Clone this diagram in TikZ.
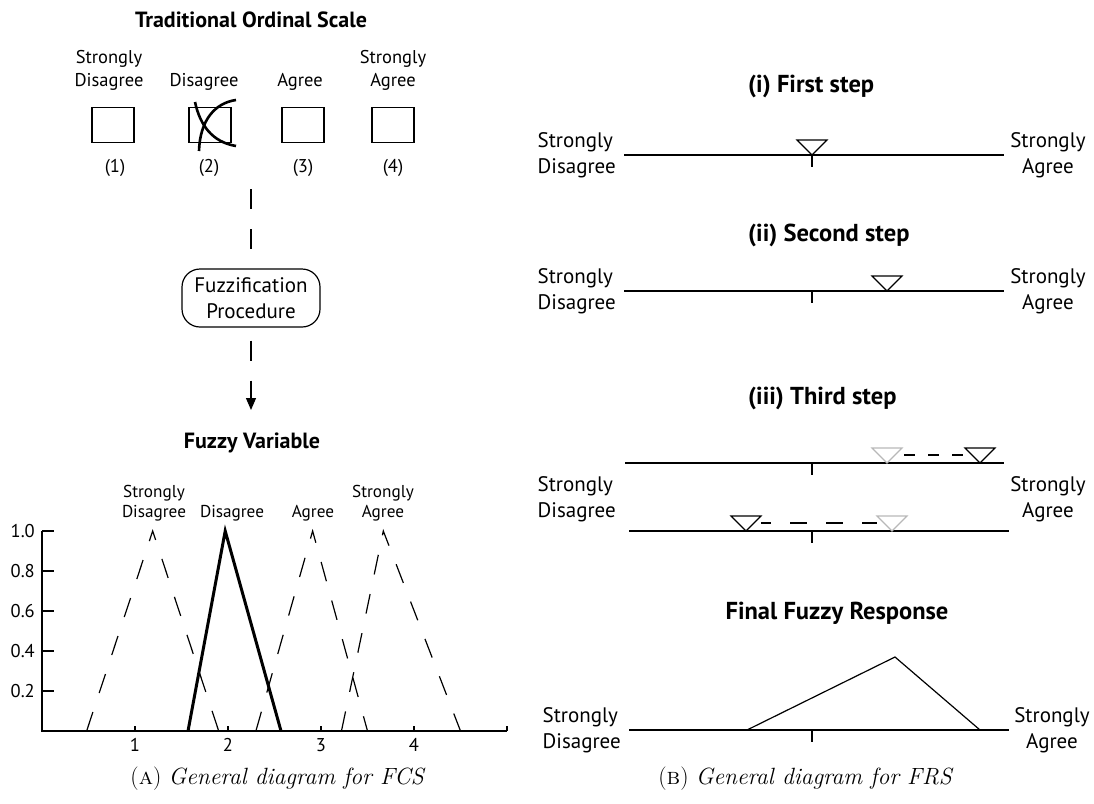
\documentclass[tikz,border=0pt]{standalone}
\usepackage{fontspec}
\newfontfamily\sansf{PT Sans}
\usetikzlibrary{arrows.meta,positioning}

\begin{document}
\begin{tikzpicture}[x=1pt,y=-1pt,
    lbl/.style={font=\sansf\fontsize{18.5}{23}\selectfont, align=center, inner sep=0pt},
    lblsm/.style={font=\sansf\fontsize{17.2}{20}\selectfont, align=center, inner sep=0pt},
    lblbig/.style={font=\sansf\fontsize{21}{26}\selectfont, align=center, inner sep=0pt},
    ttl/.style={font=\sansf\bfseries\fontsize{22}{26}\selectfont, inner sep=0pt},
    ttlbig/.style={font=\sansf\bfseries\fontsize{24.5}{29}\selectfont, inner sep=0pt},
    captxt/.style={font=\fontsize{23.5}{28}\selectfont, inner sep=0pt},
    box/.style={draw, line width=1.2pt, minimum width=42pt, minimum height=35pt, inner sep=0pt},
    flow/.style={line width=1.2pt, dash pattern=on 20pt off 20pt},
    fuzzy/.style={line width=1.2pt, dash pattern=on 20pt off 20pt},
    scaleline/.style={line width=1.3pt},
    tri/.style={line width=1.2pt},
    ghost/.style={line width=1.2pt, draw=black!28},
    trail/.style={line width=1.2pt}]
    \useasboundingbox (0,0) rectangle (1094,803);

    % (A) traditional ordinal scale
    \node[ttl] (ordtitle) at (251,20) {Traditional Ordinal Scale};
    \node[box] (b1) at (113,125) {};
    \node[box] (b2) at (210,125) {};
    \node[box] (b3) at (303,125) {};
    \node[box] (b4) at (393,125) {};
    \node[lbl] (l1) at (109,70) {Strongly\\Disagree};
    \node[lbl] (l2) at (204,82) {Disagree};
    \node[lbl] (l3) at (300,82) {Agree};
    \node[lbl] (l4) at (393,70) {Strongly\\Agree};
    \node[lbl] (n1) at (115,168) {(1)};
    \node[lbl] (n2) at (209,168) {(2)};
    \node[lbl] (n3) at (303,168) {(3)};
    \node[lbl] (n4) at (393,168) {(4)};
    % the tick on box 2
    \draw[line width=2.6pt] (236,100) .. controls (215,103) and (200,120) .. (199,151);
    \draw[line width=2.6pt] (195,102) .. controls (200,125) and (212,142) .. (236,146);

    % fuzzification
    \coordinate (flowtop) at (251,189);
    \node[lblbig, draw, line width=1.2pt, rounded corners=18pt, minimum width=138pt, minimum height=58pt] (fuzz) at (251,298) {Fuzzification\\Procedure};
    \coordinate (flowend) at (251,410);
    \draw[flow] (flowtop) -- (fuzz.north);
    \draw[flow, dash phase=27pt, -{Triangle[length=12pt,width=10pt]}] (fuzz.south) -- (flowend);

    % fuzzy variable
    \node[ttl] (fvtitle) at (252,443) {Fuzzy Variable};
    \node[lblsm] (t1) at (154,503) {Strongly\\Disagree};
    \node[lblsm] (t2) at (232,513) {Disagree};
    \node[lblsm] (t3) at (313,513) {Agree};
    \node[lblsm] (t4) at (383,503) {Strongly\\Agree};
    \begin{scope}[shift={(42,731)}, x=93pt, y=200pt]
        \draw[scaleline] (0,1) -- (0,0) -- (5,0);
        \foreach \v [count=\i] in {0.2,0.4,0.6,0.8,1.0} {
            \draw[scaleline] (0,\v) -- ++(0:12pt);
            \node[lbl, anchor=east] (yl\i) at ([xshift=-7pt]0,\v) {\v};
        }
        \foreach \u in {1,...,5}
            \draw[scaleline] (\u,0) -- ++(90:5pt);
        \foreach \u in {1,...,4}
            \node[lbl, anchor=north] (xl\u) at ([yshift=-7pt]\u,0) {\u};
        \draw[fuzzy] (0.48,0) -- (1.19,1) -- (1.90,0);
        \draw[line width=3pt] (1.57,0) -- (1.97,1) -- (2.57,0);
        \draw[fuzzy] (2.30,0) -- (2.91,1) -- (3.50,0);
        \draw[fuzzy] (3.22,0) -- (3.67,1) -- (4.50,0);
    \end{scope}
    \node[captxt] (capa) at (278,779) {(\textsc{a}) \textit{General diagram for FCS}};

    % (B) fuzzy rating scale
    % (i)
    \node[ttlbig, anchor=west] (s1) at (748,86) {(i) First step};
    \draw[scaleline] (624,155) -- (1004,155);
    \draw[scaleline] (812,155) -- ++(0,12);
    \node[lblbig, align=left, anchor=east] (sd1) at (616,155) {Strongly\\Disagree};
    \node[lblbig] (sa1) at (1048,155) {Strongly\\Agree};
    \coordinate (p1) at (812,155);
    \draw[tri] (p1) -- ++(-15,-15) -- ++(30,0) -- cycle;

    % (ii)
    \node[ttlbig, anchor=west] (s2) at (748,235) {(ii) Second step};
    \draw[scaleline] (624,291) -- (1004,291);
    \draw[scaleline] (812,291) -- ++(0,12);
    \node[lblbig, align=left, anchor=east] (sd2) at (616,291) {Strongly\\Disagree};
    \node[lblbig] (sa2) at (1048,291) {Strongly\\Agree};
    \coordinate (p2) at (887,291);
    \draw[tri] (p2) -- ++(-15,-15) -- ++(30,0) -- cycle;

    % (iii)
    \node[ttlbig, anchor=west] (s3) at (748,398) {(iii) Third step};
    \draw[scaleline] (625,463) -- (1004,463);
    \draw[scaleline] (812,463) -- ++(0,12);
    \draw[scaleline] (629,531) -- (1009,531);
    \draw[scaleline] (812,531) -- ++(0,12);
    \node[lblbig, align=left, anchor=east] (sd3) at (616,499) {Strongly\\Disagree};
    \node[lblbig] (sa3) at (1048,499) {Strongly\\Agree};
    \coordinate (g1) at (887,463);
    \coordinate (k1) at (980,463);
    \coordinate (k2) at (746,531);
    \coordinate (g2) at (892,531);
    \draw[ghost] (g1) -- ++(-15,-15) -- ++(30,0) -- cycle;
    \draw[tri] (k1) -- ++(-15,-15) -- ++(30,0) -- cycle;
    \draw[tri] (k2) -- ++(-15,-15) -- ++(30,0) -- cycle;
    \draw[ghost] (g2) -- ++(-15,-15) -- ++(30,0) -- cycle;
    \draw[trail, dash pattern=on 11pt off 13pt] ([shift={(17,-8)}]g1) -- ([shift={(-17,-8)}]k1);
    \draw[trail, dash pattern=on 17pt off 19pt, dash phase=7pt] ([shift={(15,-8)}]k2) -- ([shift={(-15,-8)}]g2);

    % final response
    \node[ttlbig] (s4) at (837,613) {Final Fuzzy Response};
    \draw[scaleline] (629,730) -- (1009,730);
    \draw[scaleline] (812,730) -- ++(0,12);
    \node[lblbig, align=left, anchor=east] (sd4) at (621,730) {Strongly\\Disagree};
    \node[lblbig] (sa4) at (1052,730) {Strongly\\Agree};
    \draw[tri] (747,730) -- (895,657) -- (980,730);
    \node[captxt] (capb) at (806,779) {(\textsc{b}) \textit{General diagram for FRS}};
\end{tikzpicture}
\end{document}
